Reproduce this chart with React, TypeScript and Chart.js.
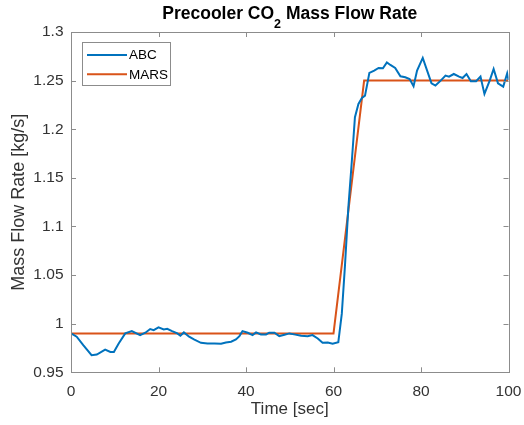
import React, { useEffect, useRef } from "react";
import { Chart, registerables } from "chart.js";

Chart.register(...registerables);

const abcTime = [0, 1.3, 2.8, 4.7, 5.9, 7.8, 9.0, 9.8, 10.9, 12.4, 13.9, 15.8, 17.0, 18.1, 18.9, 20.0, 21.2, 22.0, 23.1, 24.3, 25.0, 25.8, 27.0, 28.1, 29.7, 31.2, 32.8, 34.3, 35.4, 36.6, 37.7, 38.5, 39.2, 40.4, 41.5, 42.3, 43.4, 44.6, 45.3, 46.5, 47.6, 48.8, 49.9, 51.0, 52.6, 54.1, 55.2, 56.4, 57.5, 58.7, 59.8, 61.1, 61.9, 62.6, 63.4, 64.2, 64.9, 65.7, 66.5, 67.2, 68.2, 69.3, 70.3, 71.3, 72.2, 73.0, 74.1, 75.3, 76.4, 77.4, 78.3, 79.1, 80.4, 81.4, 82.4, 83.3, 84.5, 85.6, 86.4, 87.5, 88.7, 89.5, 90.4, 91.4, 92.6, 93.6, 94.5, 95.7, 96.6, 97.6, 98.8, 99.7, 100];
const abcValue = [0.990, 0.9866, 0.9779, 0.9676, 0.9683, 0.9734, 0.9710, 0.9710, 0.9797, 0.990, 0.9924, 0.9883, 0.9907, 0.9945, 0.9934, 0.9962, 0.9941, 0.9948, 0.9924, 0.990, 0.9876, 0.991, 0.9866, 0.9838, 0.9803, 0.9797, 0.9797, 0.9793, 0.9807, 0.9814, 0.9838, 0.9872, 0.9924, 0.9907, 0.9883, 0.991, 0.989, 0.989, 0.9907, 0.9907, 0.9872, 0.9886, 0.990, 0.989, 0.9876, 0.9872, 0.9883, 0.9848, 0.9803, 0.9807, 0.9793, 0.981, 1.0103, 1.0582, 1.1199, 1.1678, 1.2123, 1.226, 1.2322, 1.2346, 1.2579, 1.2603, 1.263, 1.2627, 1.2688, 1.2661, 1.263, 1.2545, 1.2534, 1.2517, 1.2442, 1.2603, 1.2733, 1.2603, 1.2473, 1.2449, 1.25, 1.2551, 1.2541, 1.2568, 1.2541, 1.2527, 1.2568, 1.2493, 1.2493, 1.2541, 1.2363, 1.25, 1.262, 1.2473, 1.2438, 1.2575, 1.2507];

const marsTime = [0, 60, 67, 100];
const marsValue = [0.99, 0.99, 1.25, 1.25];

const seriesLabels = ["ABC", "MARS"];
const seriesColors = ["#0072BD", "#D95319"];

const titleMain = "Precooler CO";
const titleSub = "2";
const titleRest = " Mass Flow Rate";
const xLabel = "Time [sec]";
const yLabel = "Mass Flow Rate [kg/s]";

const FONT = "'Liberation Sans', Arial, Helvetica, sans-serif";
const AXIS_COLOR = "#8c8c8c";
const TEXT_COLOR = "#333333";

const framePlugin = {
  id: "frame",
  afterDraw(chart: any) {
    const ctx = chart.ctx;
    const { left, right, top, bottom } = chart.chartArea;
    ctx.save();
    ctx.strokeStyle = AXIS_COLOR;
    ctx.lineWidth = 1;
    ctx.strokeRect(Math.round(left) + 0.5, Math.round(top) + 0.5, Math.round(right - left), Math.round(bottom - top));
    const tl = 5;
    ctx.beginPath();
    const xs = chart.scales.x;
    xs.ticks.forEach((t: any) => {
      const px = Math.round(xs.getPixelForValue(t.value)) + 0.5;
      ctx.moveTo(px, bottom);
      ctx.lineTo(px, bottom - tl);
      ctx.moveTo(px, top);
      ctx.lineTo(px, top + tl);
    });
    const ys = chart.scales.y;
    ys.ticks.forEach((t: any) => {
      const py = Math.round(ys.getPixelForValue(t.value)) + 0.5;
      ctx.moveTo(left, py);
      ctx.lineTo(left + tl, py);
      ctx.moveTo(right, py);
      ctx.lineTo(right - tl, py);
    });
    ctx.stroke();

    // legend
    const lx = 82.5, ly = 42.5, lw = 88, lh = 43;
    ctx.fillStyle = "#ffffff";
    ctx.fillRect(lx, ly, lw, lh);
    ctx.strokeStyle = AXIS_COLOR;
    ctx.strokeRect(lx, ly, lw, lh);
    chart.data.datasets.forEach((ds: any, i: number) => {
      const y = ly + 12.5 + i * 19.3;
      ctx.strokeStyle = ds.borderColor;
      ctx.lineWidth = 2;
      ctx.beginPath();
      ctx.moveTo(87, y);
      ctx.lineTo(127, y);
      ctx.stroke();
      ctx.fillStyle = "#000000";
      ctx.font = `13.5px ${FONT}`;
      ctx.textAlign = "left";
      ctx.textBaseline = "middle";
      ctx.fillText(ds.label, 129, y + 0.5);
    });

    // title with subscript
    ctx.fillStyle = "#000000";
    const mainFont = `bold 17.5px ${FONT}`;
    const subFont = `bold 12.5px ${FONT}`;
    ctx.font = mainFont;
    const w1 = ctx.measureText(titleMain).width;
    const w3 = ctx.measureText(titleRest).width;
    ctx.font = subFont;
    const w2 = ctx.measureText(titleSub).width;
    const total = w1 + w2 + w3;
    const cx = (left + right) / 2;
    let x = cx - total / 2;
    const baseY = 18.5;
    ctx.textAlign = "left";
    ctx.textBaseline = "alphabetic";
    ctx.font = mainFont;
    ctx.fillText(titleMain, x, baseY);
    x += w1;
    ctx.font = subFont;
    ctx.fillText(titleSub, x, baseY + 9.5);
    x += w2;
    ctx.font = mainFont;
    ctx.fillText(titleRest, x, baseY);
    ctx.restore();
  },
};

function fmt(v: number) {
  return String(Number(v.toFixed(2)));
}

export default function App() {
  const canvasRef = useRef<HTMLCanvasElement | null>(null);

  useEffect(() => {
    if (!canvasRef.current) return;
    const abcData = abcTime.map((t, i) => ({ x: t, y: abcValue[i] }));
    const marsData = marsTime.map((t, i) => ({ x: t, y: marsValue[i] }));
    const chart = new Chart(canvasRef.current, {
      type: "line",
      data: {
        datasets: [
          {
            label: seriesLabels[0],
            data: abcData,
            borderColor: seriesColors[0],
            backgroundColor: seriesColors[0],
            borderWidth: 2,
            pointRadius: 0,
            tension: 0,
            fill: false,
          },
          {
            label: seriesLabels[1],
            data: marsData,
            borderColor: seriesColors[1],
            backgroundColor: seriesColors[1],
            borderWidth: 2,
            pointRadius: 0,
            tension: 0,
            fill: false,
          },
        ],
      },
      options: {
        animation: false,
        responsive: false,
        maintainAspectRatio: false,
        devicePixelRatio: 1,
        layout: { padding: { left: 0, top: 32, right: 15.5, bottom: 0 } },
        plugins: {
          legend: { display: false },
          title: { display: false },
          tooltip: { enabled: false },
        },
        scales: {
          x: {
            type: "linear",
            min: 0,
            max: 100,
            border: { display: false },
            grid: { display: false, drawTicks: true, tickLength: 10 },
            ticks: {
              stepSize: 20,
              padding: 0,
              color: TEXT_COLOR,
              font: { family: FONT, size: 15.5 },
              maxRotation: 0,
            },
            title: {
              display: true,
              text: xLabel,
              color: TEXT_COLOR,
              font: { family: FONT, size: 17 },
              padding: { top: 0, bottom: 5 },
            },
            afterFit(scale: any) {
              scale.height = 52.7;
            },
          },
          y: {
            type: "linear",
            min: 0.95,
            max: 1.3,
            border: { display: false },
            grid: { display: false, drawTicks: false },
            ticks: {
              stepSize: 0.05,
              padding: 7.5,
              color: TEXT_COLOR,
              font: { family: FONT, size: 15.5 },
              callback: (v: any) => fmt(Number(v)),
            },
            title: {
              display: true,
              text: yLabel,
              color: TEXT_COLOR,
              font: { family: FONT, size: 18 },
              padding: { top: 8, bottom: 0 },
            },
            afterFit(scale: any) {
              scale.width = 71;
            },
          },
        },
      },
      plugins: [framePlugin],
    } as any);
    return () => chart.destroy();
  }, []);

  return (
    <div style={{ position: "fixed", left: 0, top: 0, width: 524, height: 425, background: "#fff" }}>
      <canvas ref={canvasRef} width={524} height={425} style={{ width: 524, height: 425, display: "block" }} />
    </div>
  );
}
